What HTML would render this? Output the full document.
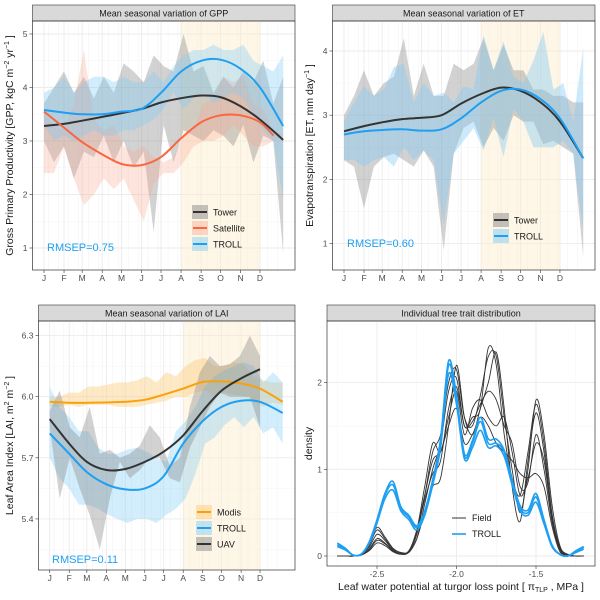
<!DOCTYPE html>
<html><head><meta charset="utf-8"><style>
body{margin:0;background:#fff;}
svg{display:block;font-family:"Liberation Sans","DejaVu Sans",sans-serif;}
</style></head><body>
<svg id="c" width="600" height="600" viewBox="0 0 600 600" xmlns="http://www.w3.org/2000/svg"></svg>
<script>
// ---------- DATA ----------
const monthLabels=["J","F","M","A","M","J","J","A","S","O","N","D"];
const monthDays=[0,31,59,90,120,151,181,212,243,273,304,334];
const smoothDays=[0,31,59,90,120,151,181,212,243,273,304,334,370];
const bandDays25=[0,15.4,30.8,46.3,61.7,77.1,92.5,107.9,123.3,138.8,154.2,169.6,185,200.4,215.8,231.3,246.7,262.1,277.5,292.9,308.3,323.8,339.2,354.6,370];
// GPP
const gppTower=[3.28,3.32,3.38,3.45,3.52,3.6,3.72,3.8,3.85,3.82,3.65,3.4,3.02];
const gppSatDays=[0,31,59,90,120,151,181,212,243,273,304,334,355];
const gppSat=[3.55,3.25,2.98,2.75,2.57,2.55,2.7,3.05,3.35,3.48,3.48,3.35,3.1];
const gppTroll=[3.58,3.53,3.5,3.5,3.55,3.6,3.9,4.3,4.5,4.52,4.35,4.0,3.28];
const gppTowerHi=[3.7,4.0,4.3,3.9,4.2,3.8,4.2,3.9,4.45,4.3,4.1,4.6,4.4,4.3,5.0,4.3,4.4,3.9,4.2,4.0,4.3,4.1,4.5,3.7,4.2];
const gppTowerLo=[3.0,2.6,2.9,2.3,2.8,2.7,3.1,2.6,3.0,2.5,2.8,1.3,3.3,2.6,3.2,3.1,3.0,3.2,3.1,2.9,3.3,2.6,3.1,3.0,0.9];
const gppSatHi=[3.5,3.3,3.2,3.7,4.7,3.4,3.2,3.3,2.9,2.8,2.9,2.7,2.6,2.7,3.1,3.2,3.7,3.8,4.2,4.1,4.2,3.7,3.6,3.2,3.1];
const gppSatLo=[2.4,2.4,2.9,2.3,1.8,2.0,2.3,2.1,2.3,1.9,1.5,2.2,2.4,2.4,2.6,2.9,3.0,3.0,3.1,3.3,3.1,2.9,2.9,3.0,3.1];
const gppTrollHi=[3.9,4.0,4.2,3.9,4.1,4.2,4.2,4.1,4.2,4.1,4.1,4.3,4.1,4.4,4.6,4.7,4.7,4.8,4.7,4.7,4.8,4.5,4.4,4.3,4.6];
const gppTrollLo=[3.3,3.0,3.1,3.0,3.1,3.2,3.1,3.1,3.2,3.2,3.3,3.4,3.6,3.9,3.6,3.8,3.9,3.7,3.8,3.9,3.8,3.5,3.2,3.0,1.9];
// ET
const etTower=[2.75,2.83,2.89,2.94,2.96,3.0,3.18,3.33,3.43,3.38,3.2,2.9,2.33];
const etTroll=[2.7,2.75,2.77,2.78,2.76,2.78,2.95,3.2,3.38,3.4,3.25,2.95,2.33];
const etTowerHi=[3.0,3.3,3.7,3.3,3.5,3.6,4.2,3.3,3.8,3.3,3.3,3.8,3.7,3.8,4.2,3.7,4.1,3.7,3.7,3.4,3.4,3.3,3.3,3.2,3.2];
const etTowerLo=[2.3,2.2,1.55,2.2,2.35,2.4,2.3,2.2,2.45,2.2,0.9,2.4,2.8,2.9,2.5,2.8,2.6,3.0,2.9,2.9,2.55,2.6,2.5,2.4,0.8];
const etTrollHi=[2.9,3.2,3.45,3.3,3.4,3.75,3.8,3.2,3.5,3.3,3.35,3.2,3.45,3.4,4.25,3.7,4.15,3.6,3.5,3.85,4.3,3.4,3.5,2.9,4.05];
const etTrollLo=[2.3,2.3,2.2,2.3,2.35,2.2,2.5,2.3,2.45,2.3,1.3,2.4,2.6,2.8,2.45,2.95,2.35,3.1,2.9,2.5,2.5,2.5,2.6,2.4,1.2];
// LAI
const laiModis=[5.975,5.97,5.97,5.972,5.975,5.985,6.01,6.04,6.072,6.075,6.065,6.04,5.975];
const laiTroll=[5.82,5.72,5.63,5.57,5.545,5.55,5.61,5.77,5.88,5.95,5.98,5.975,5.92];
const laiUavDays=[0,31,59,90,120,151,181,212,243,273,304,334];
const laiUav=[5.89,5.77,5.68,5.64,5.645,5.68,5.73,5.81,5.93,6.03,6.09,6.135];
const laiModisHi=[6.0,6.0,6.02,6.02,6.05,6.05,6.06,6.07,6.07,6.08,6.1,6.07,6.12,6.1,6.15,6.18,6.19,6.15,6.15,6.17,6.16,6.1,6.08,6.07,6.07];
const laiModisLo=[5.95,5.95,5.96,5.95,5.96,5.96,5.96,5.95,5.95,5.95,5.96,5.97,5.98,6.0,6.0,6.02,6.03,6.0,6.02,6.01,6.0,5.98,5.95,5.97,5.96];
const laiTrollHi=[6.05,5.95,5.9,5.83,5.83,5.75,5.72,5.72,5.74,5.75,5.73,5.7,5.68,5.83,5.88,5.95,6.05,6.1,6.13,6.15,6.17,6.15,6.07,6.12,6.07];
const laiTrollLo=[5.7,5.6,5.55,5.47,5.47,5.45,5.42,5.4,5.38,5.4,5.4,5.38,5.42,5.45,5.5,5.62,5.77,5.8,5.86,5.9,5.85,5.9,5.82,5.85,5.77];
const laiUavBandDays=[0,15.9,31.8,47.7,63.6,79.5,95.4,111.3,127.2,143.1,159,174.9,190.8,206.7,222.6,238.5,254.4,270.3,286.2,302.1,318,334];
const laiUavHi=[5.93,6.03,5.85,5.8,5.95,5.72,5.74,5.7,5.72,5.76,5.86,5.8,5.66,5.7,5.95,6.12,6.2,6.15,6.16,6.2,6.3,6.2];
const laiUavLo=[5.85,5.5,5.7,5.55,5.42,5.25,5.5,5.68,5.6,5.64,5.7,5.7,5.6,5.58,5.75,5.85,5.95,6.02,6.0,6.0,6.0,5.85];
// Density
const tlpGrid=[-2.75,-2.7,-2.65,-2.6,-2.55,-2.5,-2.45,-2.4,-2.35,-2.3,-2.25,-2.2,-2.15,-2.1,-2.05,-2.0,-1.95,-1.9,-1.85,-1.8,-1.75,-1.7,-1.65,-1.6,-1.55,-1.5,-1.45,-1.4,-1.35,-1.3,-1.25,-1.2];
const field1=[0,0,0,0.02,0.12,0.3,0.2,0.08,0.04,0.05,0.2,0.6,1.0,1.3,1.9,2.05,1.5,1.6,1.7,2.4,2.2,1.4,0.9,0.7,1.2,1.75,1.3,0.5,0.1,0.01,0,0];
const field2=[0,0,0,0.02,0.1,0.25,0.18,0.07,0.03,0.05,0.25,0.7,1.2,1.4,2.0,2.15,1.6,1.5,1.85,2.3,2.3,1.6,1.0,0.5,1.0,1.8,1.4,0.6,0.12,0.02,0,0];
const field3=[0,0,0,0.01,0.08,0.2,0.15,0.06,0.03,0.06,0.3,0.8,1.3,1.2,1.6,1.9,1.4,1.7,1.8,1.6,1.5,1.6,1.2,0.7,0.9,1.3,1.1,0.45,0.08,0.01,0,0];
const field4=[0,0,0,0.01,0.06,0.15,0.12,0.05,0.02,0.05,0.3,0.7,1.1,1.2,1.5,1.7,1.3,1.4,1.6,1.5,1.3,1.2,1.1,0.95,0.9,0.95,0.8,0.35,0.05,0.01,0,0];
const field5=[0,0,0,0.02,0.12,0.33,0.22,0.09,0.04,0.04,0.2,0.5,0.8,0.9,1.5,2.2,1.6,1.4,1.7,2.0,2.35,1.7,0.8,0.4,1.1,1.65,1.2,0.45,0.08,0.01,0,0];
const field6=[0,0,0,0.01,0.07,0.18,0.14,0.06,0.03,0.05,0.28,0.65,0.95,1.1,1.7,1.95,1.5,1.55,1.75,1.9,1.8,1.5,1.3,0.8,0.85,1.4,1.0,0.4,0.07,0.01,0,0];
const troll1=[0.13,0.08,0.01,0.02,0.15,0.4,0.7,0.82,0.55,0.45,0.33,0.5,0.85,1.3,2.2,1.8,1.15,1.3,1.55,1.3,1.3,1.2,0.85,0.55,0.5,0.68,0.4,0.12,0.02,0,0.05,0.1];
const troll2=[0.11,0.07,0.01,0.02,0.14,0.38,0.66,0.76,0.52,0.42,0.3,0.47,0.82,1.25,2.1,1.75,1.12,1.25,1.45,1.25,1.27,1.15,0.82,0.52,0.47,0.62,0.37,0.11,0.02,0,0.04,0.08];
const troll3=[0.15,0.09,0.01,0.02,0.16,0.42,0.72,0.86,0.57,0.47,0.35,0.52,0.88,1.35,2.25,1.85,1.18,1.33,1.6,1.35,1.35,1.22,0.88,0.58,0.53,0.72,0.42,0.13,0.02,0,0.06,0.11];
const yTicksGpp=[1,2,3,4,5], yTicksEt=[1,2,3,4], yTicksLai=[5.4,5.7,6.0,6.3], xTicksTlp=[-2.5,-2.0,-1.5], yTicksDen=[0,1,2];

// ---------- HELPERS ----------
const svg=document.getElementById('c');
const NS="http://www.w3.org/2000/svg";
function el(tag,attrs,parent,txt){const e=document.createElementNS(NS,tag);for(const k in attrs)e.setAttribute(k,attrs[k]);if(txt!==undefined)e.textContent=txt;(parent||svg).appendChild(e);return e;}
function spline(pts){if(!pts.length)return"";let d=`M${pts[0][0].toFixed(1)},${pts[0][1].toFixed(1)}`;for(let i=0;i<pts.length-1;i++){const p0=pts[i-1]||pts[i],p1=pts[i],p2=pts[i+1],p3=pts[i+2]||p2;const c1=[p1[0]+(p2[0]-p0[0])/6,p1[1]+(p2[1]-p0[1])/6],c2=[p2[0]-(p3[0]-p1[0])/6,p2[1]-(p3[1]-p1[1])/6];d+=`C${c1[0].toFixed(1)},${c1[1].toFixed(1)} ${c2[0].toFixed(1)},${c2[1].toFixed(1)} ${p2[0].toFixed(1)},${p2[1].toFixed(1)}`;}return d;}
function bandPath(days,lo,hi,X,Y){let pts=days.map((d,i)=>`${X(d).toFixed(1)},${Y(hi[i]).toFixed(1)}`);let pts2=days.map((d,i)=>`${X(d).toFixed(1)},${Y(lo[i]).toFixed(1)}`).reverse();return "M"+pts.concat(pts2).join("L")+"Z";}

function panel(cfg){
  const g=el('g',{},svg);
  
  
  const {x0,x1,y0,y1}=cfg;
  el('rect',{x:x0,y:y0,width:x1-x0,height:y1-y0,fill:'#fff'},g);
  // strip
  const st=el('rect',{x:x0,y:y0-16,width:x1-x0,height:16,fill:'#d9d9d9',stroke:'#333','stroke-width':0.6},g);
  
  
  const tt=el('text',{x:(x0+x1)/2,y:y0-4.5,'font-size':9,'text-anchor':'middle',fill:'#1a1a1a'},g,cfg.title);
  
  
  return g;
}
function frame(g,x0,x1,y0,y1){el('rect',{x:x0,y:y0,width:x1-x0,height:y1-y0,fill:'none',stroke:'#333','stroke-width':0.7},g);}

function timePanel(cfg){
  const {x0,x1,y0,y1}=cfg;
  const g=panel(cfg);
  const X=d=>cfg.xJ+d*cfg.pxDay;
  const Y=v=>cfg.yRef+(cfg.vRef-v)*cfg.pxUnit;
  // grids
  const step=cfg.ticks[1]-cfg.ticks[0];
  for(let v=cfg.ticks[0]-step*2;v<=cfg.ticks[cfg.ticks.length-1]+step*2;v+=step/2){const y=Y(v);if(y>y0&&y<y1)el('line',{x1:x0,x2:x1,y1:y,y2:y,stroke:Math.abs(((v-cfg.ticks[0])/step)%1)<1e-6?'#ebebeb':'#f5f5f5','stroke-width':Math.abs(((v-cfg.ticks[0])/step)%1)<1e-6?0.9:0.5},g);}
  for(let i=0;i<24;i++){const d=i*15.4+7;el('line',{x1:X(d),x2:X(d),y1:y0,y2:y1,stroke:'#f3f3f3','stroke-width':0.6},g);}
  monthDays.forEach(d=>el('line',{x1:X(d),x2:X(d),y1:y0,y2:y1,stroke:'#ebebeb','stroke-width':0.9},g));
  // dry season band
  const db=el('rect',{x:X(212),y:y0,width:X(334)-X(212),height:y1-y0,fill:'#fdebc8',opacity:0.45},g);
  
  
  cfg.series.forEach(s=>{
    const b=el('path',{d:bandPath(s.bandDays,s.lo,s.hi,X,Y),fill:s.fill,opacity:s.op},g);
    
    
  });
  cfg.series.forEach(s=>{
    const l=el('path',{d:spline(s.days.map((d,i)=>[X(d),Y(s.vals[i])])),fill:'none',stroke:s.color,'stroke-width':2},g);
    
    
  });
  frame(g,x0,x1,y0,y1);
  // axes
  cfg.ticks.forEach(v=>{const y=Y(v);el('line',{x1:x0-3,x2:x0,y1:y,y2:y,stroke:'#333','stroke-width':0.6},g);const t=el('text',{x:x0-5,y:y+3,'font-size':8.5,'text-anchor':'end',fill:'#4d4d4d'},g,cfg.fmt?cfg.fmt(v):v);});
  monthDays.forEach((d,i)=>{el('line',{x1:X(d),x2:X(d),y1:y1,y2:y1+3,stroke:'#333','stroke-width':0.6},g);const t=el('text',{x:X(d),y:y1+11,'font-size':8.5,'text-anchor':'middle',fill:'#4d4d4d'},g,monthLabels[i]);});
  const yt=el('text',{transform:`translate(${cfg.ytx},${(y0+y1)/2}) rotate(-90)`,'font-size':10.5,'text-anchor':'middle',fill:'#1a1a1a'},g);
  
  
  yt.innerHTML=cfg.ytitle;
  const r=el('text',{x:cfg.rx,y:cfg.ry,'font-size':11,fill:'#1e9ff2'},g,cfg.rmsep);
  
  
  // legend
  cfg.series.slice().sort((a,b)=>a.lo2-b.lo2).forEach(s=>{
    const ly=cfg.ly+s.lo2*16;
    const lg=el('g',{},g);
    
    
    el('rect',{x:cfg.lx,y:ly-7,width:16,height:14,fill:s.fill,opacity:s.op+0.1},lg);
    el('line',{x1:cfg.lx+1,x2:cfg.lx+15,y1:ly,y2:ly,stroke:s.color,'stroke-width':2},lg);
    el('text',{x:cfg.lx+21,y:ly+3.5,'font-size':9,fill:'#1a1a1a'},lg,s.label);
  });
}

// ---------- PANELS ----------
timePanel({name:'gpp-panel',title:'Mean seasonal variation of GPP',x0:32.5,x1:295,y0:21,y1:270,xJ:44,pxDay:0.6466,yRef:34,vRef:5,pxUnit:53.5,ticks:yTicksGpp,
 ytx:13,ytitle:'Gross Primary Productivity [GPP,  kgC m<tspan dy="-4" font-size="7">−2</tspan><tspan dy="4"> yr</tspan><tspan dy="-4" font-size="7">−1</tspan><tspan dy="4"> ]</tspan>',
 rx:47,ry:251,rmsep:'RMSEP=0.75',lx:192,ly:212,
 series:[
  {key:'tower',label:'Tower',color:'#333333',fill:'#7f7f7f',op:0.35,days:smoothDays,vals:gppTower,bandDays:bandDays25,hi:gppTowerHi,lo:gppTowerLo,lo2:0},
  {key:'satellite',label:'Satellite',color:'#f9663f',fill:'#f7a58f',op:0.3,days:gppSatDays,vals:gppSat,bandDays:bandDays25,hi:gppSatHi,lo:gppSatLo,lo2:1},
  {key:'troll',label:'TROLL',color:'#1e9ff2',fill:'#7fcbf5',op:0.35,days:smoothDays,vals:gppTroll,bandDays:bandDays25,hi:gppTrollHi,lo:gppTrollLo,lo2:2}
 ]});
timePanel({name:'et-panel',title:'Mean seasonal variation of ET',x0:332.5,x1:595,y0:21,y1:270,xJ:344,pxDay:0.6466,yRef:51,vRef:4,pxUnit:64.2,ticks:yTicksEt,
 ytx:313,ytitle:'Evapotranspiration [ET,  mm day<tspan dy="-4" font-size="7">−1</tspan><tspan dy="4"> ]</tspan>',
 rx:347,ry:247,rmsep:'RMSEP=0.60',lx:493,ly:220,
 series:[
  {key:'tower',label:'Tower',color:'#333333',fill:'#7f7f7f',op:0.35,days:smoothDays,vals:etTower,bandDays:bandDays25,hi:etTowerHi,lo:etTowerLo,lo2:0},
  {key:'troll',label:'TROLL',color:'#1e9ff2',fill:'#7fcbf5',op:0.4,days:smoothDays,vals:etTroll,bandDays:bandDays25,hi:etTrollHi,lo:etTrollLo,lo2:1}
 ]});
timePanel({name:'lai-panel',title:'Mean seasonal variation of LAI',x0:38.5,x1:295,y0:321,y1:570,xJ:49.7,pxDay:0.6297,yRef:396.7,vRef:6.0,pxUnit:203.7,ticks:yTicksLai,fmt:v=>v.toFixed(1),
 ytx:13,ytitle:'Leaf Area Index [LAI,  m<tspan dy="-4" font-size="7">2</tspan><tspan dy="4"> m</tspan><tspan dy="-4" font-size="7">−2</tspan><tspan dy="4"> ]</tspan>',
 rx:52,ry:563,rmsep:'RMSEP=0.11',lx:196,ly:512,
 series:[
  {key:'modis',label:'Modis',color:'#f9a10a',fill:'#fbcf80',op:0.45,days:smoothDays,vals:laiModis,bandDays:bandDays25,hi:laiModisHi,lo:laiModisLo,lo2:0},
  {key:'troll',label:'TROLL',color:'#1e9ff2',fill:'#7fcbf5',op:0.35,days:smoothDays,vals:laiTroll,bandDays:bandDays25,hi:laiTrollHi,lo:laiTrollLo,lo2:1},
  {key:'uav',label:'UAV',color:'#333333',fill:'#7f7f7f',op:0.35,days:laiUavDays,vals:laiUav,bandDays:laiUavBandDays,hi:laiUavHi,lo:laiUavLo,lo2:2}
 ]});

// density panel
(function(){
  const x0=327,x1=595,y0=321,y1=566;
  const g=panel({name:'density-panel',title:'Individual tree trait distribution',x0,x1,y0,y1});
  const X=v=>377+(v+2.5)*159;
  const Y=v=>556-v*86.7;
  [0.5,1.5].forEach(v=>el('line',{x1:x0,x2:x1,y1:Y(v),y2:Y(v),stroke:'#f5f5f5','stroke-width':0.5},g));
  [-2.75,-2.25,-1.75,-1.25].forEach(v=>el('line',{x1:X(v),x2:X(v),y1:y0,y2:y1,stroke:'#f5f5f5','stroke-width':0.5},g));
  yTicksDen.forEach(v=>el('line',{x1:x0,x2:x1,y1:Y(v),y2:Y(v),stroke:'#ebebeb','stroke-width':0.9},g));
  xTicksTlp.forEach(v=>el('line',{x1:X(v),x2:X(v),y1:y0,y2:y1,stroke:'#ebebeb','stroke-width':0.9},g));
  [field1,field2,field3,field4,field5,field6].forEach((f,k)=>{
    const p=el('path',{d:spline(tlpGrid.map((x,i)=>[X(x),Y(f[i])])),fill:'none',stroke:'#333','stroke-width':0.9},g);
    
    
  });
  [troll1,troll2,troll3].forEach(f=>{
    const p=el('path',{d:spline(tlpGrid.map((x,i)=>[X(x),Y(f[i])])),fill:'none',stroke:'#1e9ff2','stroke-width':1.6},g);
    
    
  });
  frame(g,x0,x1,y0,y1);
  yTicksDen.forEach(v=>{el('line',{x1:x0-3,x2:x0,y1:Y(v),y2:Y(v),stroke:'#333','stroke-width':0.6},g);const t=el('text',{x:x0-5,y:Y(v)+3,'font-size':8.5,'text-anchor':'end',fill:'#4d4d4d'},g,v);});
  xTicksTlp.forEach(v=>{el('line',{x1:X(v),x2:X(v),y1:y1,y2:y1+3,stroke:'#333','stroke-width':0.6},g);const t=el('text',{x:X(v),y:y1+11,'font-size':8.5,'text-anchor':'middle',fill:'#4d4d4d'},g,v.toFixed(1));});
  const yt=el('text',{transform:`translate(312,${(y0+y1)/2}) rotate(-90)`,'font-size':10.5,'text-anchor':'middle',fill:'#1a1a1a'},g,'density');
  
  
  const xt=el('text',{x:461,y:590,'font-size':10.5,'text-anchor':'middle',fill:'#1a1a1a'},g);
  
  
  xt.innerHTML='Leaf water potential at turgor loss point [ π<tspan dy="2" font-size="7">TLP</tspan><tspan dy="-2"> , MPa ]</tspan>';
  [['Field','#333',1],['TROLL','#1e9ff2',1.6]].forEach((e,i)=>{
    const lg=el('g',{},g);
    
    
    el('line',{x1:452,x2:466,y1:518+i*16,y2:518+i*16,stroke:e[1],'stroke-width':e[2]},lg);
    el('text',{x:472,y:521+i*16,'font-size':9,fill:'#1a1a1a'},lg,e[0]);
  });
})();
</script>
</body></html>
